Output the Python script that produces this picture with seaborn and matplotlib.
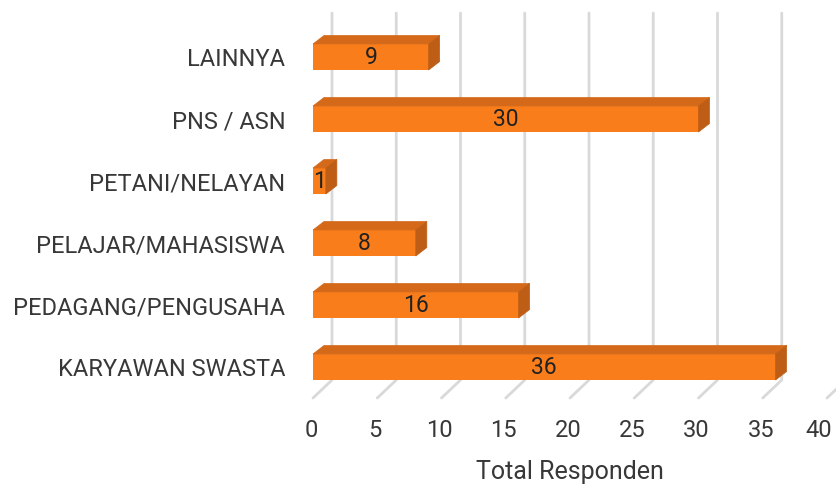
import numpy as np
import pandas as pd
import matplotlib
matplotlib.use("Agg")
import matplotlib.pyplot as plt
from matplotlib.patches import Polygon
from matplotlib.transforms import ScaledTranslation
import seaborn as sns

categories = ["LAINNYA", "PNS / ASN", "PETANI/NELAYAN", "PELAJAR/MAHASISWA",
              "PEDAGANG/PENGUSAHA", "KARYAWAN SWASTA"]
values = [9, 30, 1, 8, 16, 36]
x_ticks = [0, 5, 10, 15, 20, 25, 30, 35, 40]
x_label = "Total Responden"

front_col = "#FA7D1C"
top_col = "#D4691A"
side_col = "#BE5E16"
grid_col = "#D9D9D9"
text_col = "#383838"

# 3D depth offsets in pixels
bar_dx, bar_dy = 11, 8.5
back_dx, back_dy = 19, 18

sns.set_style("white")
plt.rcParams["font.family"] = ["Roboto", "DejaVu Sans"]

W, H = 836, 490
fig = plt.figure(figsize=(W / 100, H / 100), dpi=100)
ax = fig.add_axes([313 / W, (H - 398) / H, 514 / W, (398 - 26) / H])

df = pd.DataFrame({"kategori": categories, "total": values})
sns.barplot(data=df, x="total", y="kategori", orient="h", color=front_col,
            saturation=1, width=0.42, linewidth=0, ax=ax, zorder=3)
ax.set_xlim(0, 40)
ax.set_ylim(5.5, -0.5)
for s in ax.spines.values():
    s.set_visible(False)
ax.set_xticks(x_ticks)
ax.tick_params(axis="both", length=0, labelsize=17, colors=text_col)
ax.tick_params(axis="x", pad=15)
ax.tick_params(axis="y", pad=20)
ax.set_ylabel("")
ax.set_xlabel(x_label, fontsize=18, color=text_col, labelpad=13)

# nudge tick labels slightly left, the last one more so it stays inside
for i, lab in enumerate(ax.get_xticklabels()):
    shift = -8 if i == len(x_ticks) - 1 else -2
    lab.set_transform(lab.get_transform() + ScaledTranslation(shift / 100, 0, fig.dpi_scale_trans))

to_disp = ax.transData.transform
to_data = ax.transData.inverted().transform


def poly(pts_disp, color, z):
    pts = to_data(np.array(pts_disp))
    ax.add_patch(Polygon(pts, closed=True, facecolor=color, edgecolor=color,
                         lw=0.5, zorder=z, clip_on=False))


# back-plane gridlines and floor diagonals
y0_disp = to_disp((0, 5.5))[1]
top_disp = H - 13
for t in x_ticks:
    xd = to_disp((t, 5.5))[0]
    bx, by = xd + back_dx, y0_disp + back_dy
    p = to_data(np.array([[xd, y0_disp], [bx, by], [bx, top_disp]]))
    ax.plot(p[:, 0], p[:, 1], color=grid_col, lw=2, zorder=0, clip_on=False)

# top and side faces of each bar
for patch in ax.patches[:len(values)]:
    x0, y0 = patch.get_x(), patch.get_y()
    w, h = patch.get_width(), patch.get_height()
    (l, b), (r, t) = to_disp([(x0, y0 + h), (x0 + w, y0)])
    poly([(l, t), (r, t), (r + bar_dx, t + bar_dy), (l + bar_dx, t + bar_dy)], top_col, 4)
    poly([(r, b), (r, t), (r + bar_dx, t + bar_dy), (r + bar_dx, b + bar_dy)], side_col, 4)

ax.bar_label(ax.containers[0], label_type="center", fontsize=16.5, color="#222222", zorder=6)

fig.savefig("out.png", dpi=100)
